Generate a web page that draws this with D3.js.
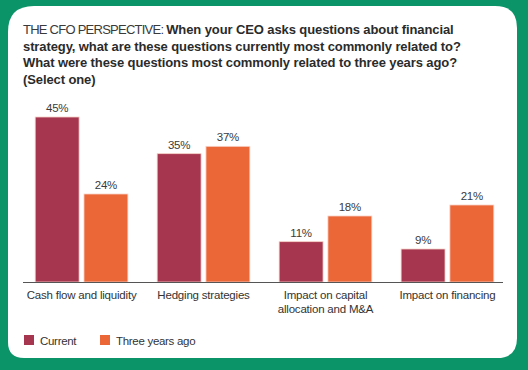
<!DOCTYPE html>
<html>
<head>
<meta charset="utf-8">
<title>The CFO perspective</title>
<style>
  body { margin: 0; background: #0b9468; }
  svg { display: block; font-family: "Liberation Sans", Arial, sans-serif; }
  .title { font-size: 13px; fill: #2b2b2b; }
  .title .lead { font-weight: normal; fill: #3a3a3a; letter-spacing: -0.75px; }
  .title .q { font-weight: bold; letter-spacing: -0.1px; }
  .val { font-size: 11.5px; fill: #3a3a3a; text-anchor: middle; letter-spacing: -0.2px; }
  .cat { font-size: 11.5px; fill: #333; text-anchor: middle; letter-spacing: -0.2px; }
  .leg { font-size: 11.5px; fill: #333; letter-spacing: -0.3px; }
</style>
</head>
<body>
<div id="chart"></div>
<script src="https://d3js.org/d3.v7.min.js"></script>
<script>
const categories = [
  ['Cash flow and liquidity'],
  ['Hedging strategies'],
  ['Impact on capital', 'allocation and M&A'],
  ['Impact on financing']
];
const seriesNames = ['Current', 'Three years ago'];
const current = [45, 35, 11, 9];
const threeYearsAgo = [24, 37, 18, 21];
const colors = ['#a6364f', '#ec6737'];
const titleLines = [
  [['THE CFO PERSPECTIVE: ', 'lead'], ['When your CEO asks questions about financial', 'q']],
  [['strategy, what are these questions currently most commonly related to?', 'q']],
  [['What were these questions most commonly related to three years ago?', 'q']],
  [['(Select one)', 'q']]
];

const W = 528, H = 370;
const svg = d3.select('#chart').append('svg').attr('width', W).attr('height', H);

// green frame + white card with uneven corners
svg.append('rect').attr('width', W).attr('height', H).attr('fill', '#0b9468');
const cx0 = 8, cy0 = 6, cx1 = 517, cy1 = 358;
const rTL = 26, rTR = 22, rBR = 20, rBL = 16;
svg.append('path')
  .attr('fill', '#fff')
  .attr('d', `M${cx0 + rTL},${cy0} H${cx1 - rTR} Q${cx1},${cy0} ${cx1},${cy0 + rTR}
    V${cy1 - rBR} Q${cx1},${cy1} ${cx1 - rBR},${cy1} H${cx0 + rBL} Q${cx0},${cy1} ${cx0},${cy1 - rBL}
    V${cy0 + rTL} Q${cx0},${cy0} ${cx0 + rTL},${cy0} Z`);

// title
const title = svg.append('text').attr('class', 'title');
titleLines.forEach((line, i) => {
  line.forEach((part, j) => {
    const ts = title.append('tspan').attr('class', part[1]).text(part[0]);
    if (j === 0) ts.attr('x', 23).attr('y', 34 + i * 16.5);
  });
});

// scales
const baseY = 282;
const x = d3.scaleBand().domain(d3.range(categories.length)).range([23, 506])
  .paddingInner(0.24).paddingOuter(0.1);
const xs = d3.scaleBand().domain(seriesNames).range([0, x.bandwidth()]).paddingInner(0.1);
const y = d3.scaleLinear().domain([0, 45]).range([baseY, 117]);

const rows = categories.map((c, i) => ({ i, values: [current[i], threeYearsAgo[i]] }));

const groups = svg.selectAll('g.grp').data(rows).enter().append('g')
  .attr('class', 'grp')
  .attr('transform', d => `translate(${x(d.i)},0)`);

groups.selectAll('rect').data(d => d.values.map((v, k) => ({ v, k }))).enter().append('rect')
  .attr('x', d => xs(seriesNames[d.k]))
  .attr('width', xs.bandwidth())
  .attr('y', d => y(d.v))
  .attr('height', d => baseY - y(d.v))
  .attr('fill', d => colors[d.k])
  .attr('stroke', '#f7d3c8')
  .attr('stroke-width', 0.8);

groups.selectAll('text.val').data(d => d.values.map((v, k) => ({ v, k }))).enter().append('text')
  .attr('class', 'val')
  .attr('x', d => xs(seriesNames[d.k]) + xs.bandwidth() / 2)
  .attr('y', d => y(d.v) - 5)
  .text(d => d.v + '%');

// baseline
svg.append('line').attr('x1', 23).attr('x2', 503).attr('y1', baseY + 0.5).attr('y2', baseY + 0.5)
  .attr('stroke', '#555').attr('stroke-width', 1);

// category labels
const cat = svg.selectAll('text.cat').data(categories).enter().append('text')
  .attr('class', 'cat')
  .attr('x', (d, i) => x(i) + x.bandwidth() / 2)
  .attr('y', 299);
cat.selectAll('tspan').data(d => d).enter().append('tspan')
  .attr('x', function () { return d3.select(this.parentNode).attr('x'); })
  .attr('dy', (d, i) => i === 0 ? 0 : 14)
  .text(d => d);

// legend
const legX = [24, 100];
const leg = svg.selectAll('g.leg').data(seriesNames).enter().append('g')
  .attr('transform', (d, i) => `translate(${legX[i]},335)`);
leg.append('rect').attr('width', 10).attr('height', 10).attr('fill', (d, i) => colors[i]);
leg.append('text').attr('class', 'leg').attr('x', 16).attr('y', 9.5).text(d => d);
</script>
</body>
</html>
